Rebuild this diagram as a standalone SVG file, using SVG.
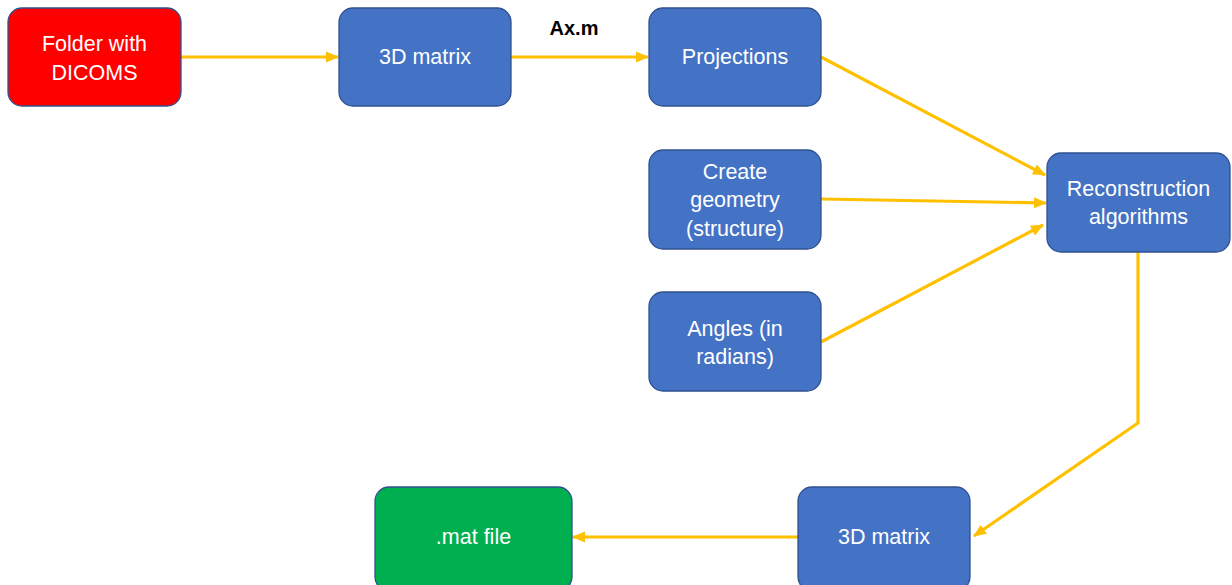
<svg xmlns="http://www.w3.org/2000/svg" width="1232" height="585" viewBox="0 0 1232 585">
<style>
.box{stroke:#2F528F;stroke-width:1.3}
.blue{fill:#4472C4}
.t{font-family:"Liberation Sans",Arial,sans-serif;font-size:21.5px;fill:#fff;text-anchor:middle}
.c{fill:none;stroke:#FFC000;stroke-width:3.2}
</style>
<defs>
<marker id="ah" markerUnits="userSpaceOnUse" markerWidth="14" markerHeight="14" viewBox="0 0 14 14" refX="12" refY="7" orient="auto">
<path d="M0,1.5 L13,7 L0,12.5 z" fill="#FFC000"/>
</marker>
</defs>
<rect width="1232" height="585" fill="#fff"/>
<g id="connectors">
<path class="c" d="M181,57 H338" marker-end="url(#ah)"/>
<path class="c" d="M511,57 H648" marker-end="url(#ah)"/>
<path class="c" d="M821,57 L1045,175" marker-end="url(#ah)"/>
<path class="c" d="M821,199 L1046,203" marker-end="url(#ah)"/>
<path class="c" d="M821,342 L1043,225" marker-end="url(#ah)"/>
<path class="c" d="M1138,252 V423 L974,536" marker-end="url(#ah)"/>
<path class="c" d="M798,537 H573" marker-end="url(#ah)"/>
</g>
<g id="folder">
<rect class="box" x="8" y="8" width="173" height="98" rx="14" fill="#FF0000"/>
<text class="t" x="94.5" y="51">Folder with</text>
<text class="t" x="94.5" y="80">DICOMS</text>
</g>
<g id="matrix1">
<rect class="box blue" x="339" y="8" width="172" height="98" rx="14"/>
<text class="t" x="425" y="64">3D matrix</text>
</g>
<g id="axm">
<text x="574" y="35" font-family="Liberation Sans,Arial,sans-serif" font-size="20" font-weight="bold" fill="#000" text-anchor="middle">Ax.m</text>
</g>
<g id="projections">
<rect class="box blue" x="649" y="8" width="172" height="98" rx="14"/>
<text class="t" x="735" y="64">Projections</text>
</g>
<g id="geometry">
<rect class="box blue" x="649" y="150" width="172" height="99" rx="14"/>
<text class="t" x="735" y="179">Create</text>
<text class="t" x="735" y="207">geometry</text>
<text class="t" x="735" y="236">(structure)</text>
</g>
<g id="angles">
<rect class="box blue" x="649" y="292" width="172" height="99" rx="14"/>
<text class="t" x="735" y="336">Angles (in</text>
<text class="t" x="735" y="364">radians)</text>
</g>
<g id="reconstruction">
<rect class="box blue" x="1047" y="153" width="183" height="99" rx="14"/>
<text class="t" x="1138.5" y="196">Reconstruction</text>
<text class="t" x="1138.5" y="224">algorithms</text>
</g>
<g id="matrix2">
<rect class="box blue" x="798" y="487" width="172" height="104" rx="14"/>
<text class="t" x="884" y="544">3D matrix</text>
</g>
<g id="matfile">
<rect class="box" x="375" y="487" width="197" height="104" rx="14" fill="#00B050"/>
<text class="t" x="473.5" y="544">.mat file</text>
</g>
</svg>
